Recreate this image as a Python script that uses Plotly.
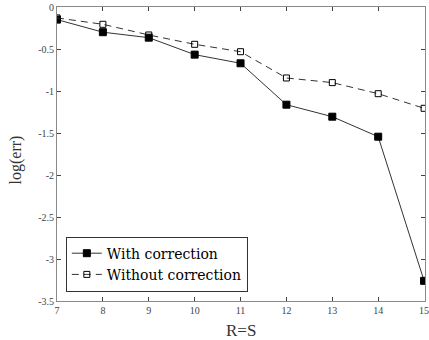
import plotly.graph_objects as go

x_vals = [7, 8, 9, 10, 11, 12, 13, 14, 15]
with_corr = [-0.15, -0.30, -0.365, -0.567, -0.67, -1.163, -1.306, -1.544, -3.26]
without_corr = [-0.13, -0.206, -0.333, -0.444, -0.532, -0.845, -0.90, -1.032, -1.206]
y_ticks = [0, -0.5, -1, -1.5, -2, -2.5, -3, -3.5]
y_tick_text = ["0", "-0.5", "-1", "-1.5", "-2", "-2.5", "-3", "-3.5"]
x_ticks = [7, 8, 9, 10, 11, 12, 13, 14, 15]

SERIF = "Liberation Serif, serif"
LEG_FONT = "DejaVu Serif, serif"

fig = go.Figure()
fig.add_trace(go.Scatter(
    x=x_vals, y=with_corr, name="With correction", mode="lines+markers",
    line=dict(color="#333333", width=1),
    marker=dict(symbol="square", size=7, color="black", line=dict(color="black", width=1)),
))
fig.add_trace(go.Scatter(
    x=x_vals, y=without_corr, name="Without correction", mode="lines+markers",
    line=dict(color="#333333", width=1, dash="7px,5px"),
    marker=dict(symbol="square-open", size=6, color="black", line=dict(color="black", width=1)),
))

axis_common = dict(
    showline=True, linecolor="#8a8a8a", linewidth=1, mirror="allticks",
    ticks="inside", ticklen=4, tickcolor="#444444", tickwidth=1,
    showgrid=False, zeroline=False, ticklabeloverflow="allow",
    tickfont=dict(family=SERIF, size=10, color="#444444"),
)

fig.update_layout(
    width=429, height=340,
    margin=dict(l=57, r=0, t=7, b=39),
    paper_bgcolor="white", plot_bgcolor="white",
    xaxis=dict(range=[7, 15.02], tickvals=x_ticks, **axis_common),
    yaxis=dict(range=[-3.5, 0], tickvals=y_ticks, ticktext=y_tick_text, **axis_common),
    legend=dict(
        x=0.024, y=0.032, xanchor="left", yanchor="bottom",
        bgcolor="white", bordercolor="#333333", borderwidth=1,
        font=dict(family=LEG_FONT, size=14, color="black"),
        tracegroupgap=0, itemwidth=30,
    ),
    annotations=[
        dict(text="R=S", x=243, y=330, xref="paper", yref="paper", showarrow=False,
             font=dict(family=SERIF, size=17, color="#333333")),
        dict(text="log(err)", textangle=-90, x=16, y=160, showarrow=False,
             font=dict(family=SERIF, size=16, color="#333333")),
    ],
)
# convert annotation pixel positions to paper coords
pw, ph = 429 - 57 - 0, 340 - 7 - 39
anns = []
for a in fig.layout.annotations:
    ax_px, ay_px = a.x, a.y
    anns.append(dict(a.to_plotly_json(), x=(ax_px - 57) / pw, y=(340 - 39 - ay_px) / ph,
                     xref="paper", yref="paper", xanchor="center", yanchor="middle"))
fig.layout.annotations = anns

fig.write_html("out.html")
